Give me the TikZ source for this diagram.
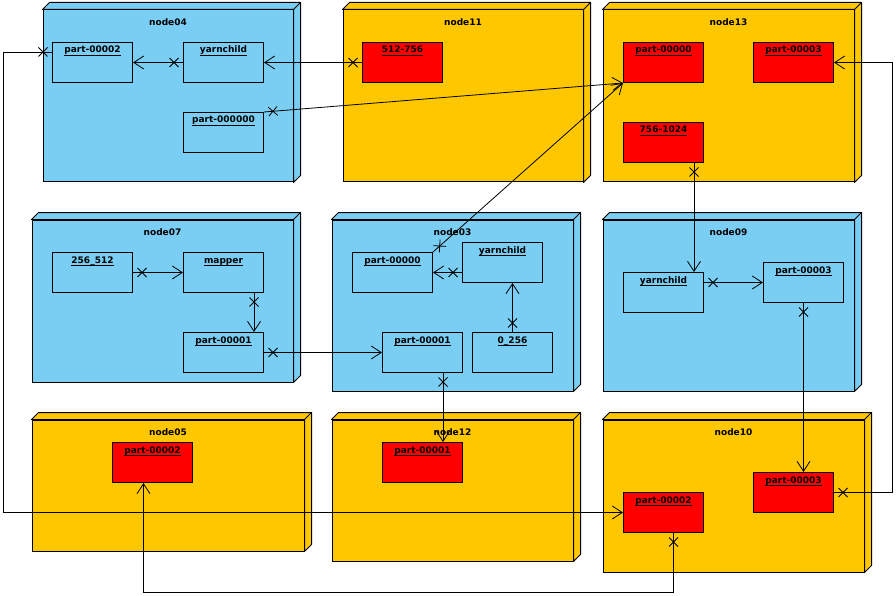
\documentclass[tikz,border=0pt]{standalone}
\usepackage{fontspec}
\setmainfont{DejaVu Sans}
\usetikzlibrary{arrows.meta,decorations.markings,calc}
\definecolor{devblue}{RGB}{122,206,244}
\definecolor{devorange}{RGB}{255,199,0}
\definecolor{artred}{RGB}{255,0,0}
\tikzset{
  dev/.style={draw=black, line width=1pt, rectangle, inner sep=0pt},
  art/.style={draw=black, line width=1pt, rectangle, minimum width=80pt, minimum height=40pt, inner sep=0pt, anchor=north west},
  ttl/.style={font=\fontsize{9}{11}\selectfont\bfseries, anchor=base, inner sep=0pt},
  conn/.style={draw=black, line width=0.8pt, -{Straight Barb[length=10pt,width=13pt,line width=0.8pt]}},
  xm/.style={postaction={decorate}, decoration={markings, mark=at position 9pt with {\draw[line width=0.8pt,-] (-4.5pt,-4.5pt)--(4.5pt,4.5pt) (-4.5pt,4.5pt)--(4.5pt,-4.5pt);}}}
}
\newcommand\device[7]{%
  \node[dev, fill=#6, minimum width={(#4)-(#2)}, minimum height={(#5)-(#3)}] (#1) at ({(#2+#4)/2},{(#3+#5)/2}) {};
  \filldraw[fill=#6, draw=black, line width=1pt, line join=round] (#1.north west) -- ++(7pt,7pt) -- ([shift={(7pt,7pt)}]#1.north east) -- ([shift={(7pt,7pt)}]#1.south east) -- (#1.south east) -- (#1.north east) -- cycle;
  \draw[line width=1pt] (#1.north east) -- ++(7pt,7pt);
  \node[ttl] (#1t) at ([yshift=-16pt]#1.north) {#7};
}
\newcommand\artifact[5]{%
  \node[art, fill=#4] (#1) at (#2,#3) {};
  \node[ttl] (#1l) at ([yshift=-11pt]#1.north) {#5};
  \draw[line width=0.8pt] ([yshift=-2pt]#1l.base west) -- ([yshift=-2pt]#1l.base east);
}
\begin{document}
\begin{tikzpicture}[x=1pt,y=-1pt]
\useasboundingbox (0,0) rectangle (896,596);
\fill[white] (0,0) rectangle (896,596);
% devices
\device{n04}{43}{10}{293}{182}{devblue}{node04}
\device{n11}{343}{10}{583}{182}{devorange}{node11}
\device{n13}{603}{10}{854}{182}{devorange}{node13}
\device{n07}{32}{220}{293}{382}{devblue}{node07}
\device{n03}{332}{220}{573}{391}{devblue}{node03}
\device{n09}{603}{220}{854}{391}{devblue}{node09}
\device{n05}{32}{420}{304}{551}{devorange}{node05}
\device{n12}{332}{420}{573}{561}{devorange}{node12}
\device{n10}{603}{420}{864}{572}{devorange}{node10}
% artifacts
\artifact{p04a}{52}{42}{devblue}{part-00002}
\artifact{y04}{183}{42}{devblue}{yarnchild}
\artifact{p04c}{183}{112}{devblue}{part-000000}
\artifact{r11}{362}{42}{artred}{512-756}
\artifact{p13a}{623}{42}{artred}{part-00000}
\artifact{p13b}{753}{42}{artred}{part-00003}
\artifact{r13}{623}{122}{artred}{756-1024}
\artifact{r07}{52}{252}{devblue}{256\_512}
\artifact{m07}{183}{252}{devblue}{mapper}
\artifact{p07}{183}{332}{devblue}{part-00001}
\artifact{p03a}{352}{252}{devblue}{part-00000}
\artifact{y03}{462}{242}{devblue}{yarnchild}
\artifact{p03b}{382}{332}{devblue}{part-00001}
\artifact{z03}{472}{332}{devblue}{0\_256}
\artifact{y09}{623}{272}{devblue}{yarnchild}
\artifact{p09}{763}{262}{devblue}{part-00003}
\artifact{p05}{112}{442}{artred}{part-00002}
\artifact{p12}{382}{442}{artred}{part-00001}
\artifact{p10a}{623}{492}{artred}{part-00002}
\artifact{p10b}{753}{472}{artred}{part-00003}
% connectors
\draw[conn,xm] (y04.west) -- (p04a.east);
\draw[conn,xm] (r11.west) -- (y04.east);
\draw[conn,xm] (p04c.north east) -- (p13a.south west);
\draw[conn,xm] (p03a.north east) -- (p13a.south west);
\coordinate (c5) at ($(r13.south east)+(-10,0)$);
\draw[conn,xm] (c5) -- (c5 |- y09.north);
\draw[conn,xm] (p09.west -| y09.east) -- (p09.west);
\draw[conn,xm] (p09.south) -- (p09.south |- p10b.north);
\coordinate (c8) at (892,0);
\draw[conn,xm] (p10b.east) -- (p10b.east -| c8) -- (c8 |- p13b.east) -- (p13b.east);
\draw[conn,xm] (r07.east) -- (m07.west);
\coordinate (c10) at ($(m07.south east)+(-10,0)$);
\draw[conn,xm] (c10) -- (c10 |- p07.north);
\draw[conn,xm] (p07.east) -- (p03b.west);
\draw[conn,xm] (p03a.east -| y03.west) -- (p03a.east);
\draw[conn,xm] (z03.north) -- (z03.north |- y03.south);
\coordinate (c14) at ($(p03b.south east)+(-20,0)$);
\draw[conn,xm] (c14) -- (c14 |- p12.north);
\coordinate (c15s) at ($(p04a.north west)+(0,10)$);
\coordinate (c15) at (3,0);
\draw[conn,xm] (c15s) -- (c15s -| c15) -- (c15 |- p10a.west) -- (p10a.west);
\coordinate (c16s) at ($(p10a.south)+(10,0)$);
\coordinate (c16e) at ($(p05.south)+(-9,0)$);
\coordinate (c16) at (0,592);
\draw[conn,xm] (c16s) -- (c16s |- c16) -- (c16e |- c16) -- (c16e);
\end{tikzpicture}
\end{document}
